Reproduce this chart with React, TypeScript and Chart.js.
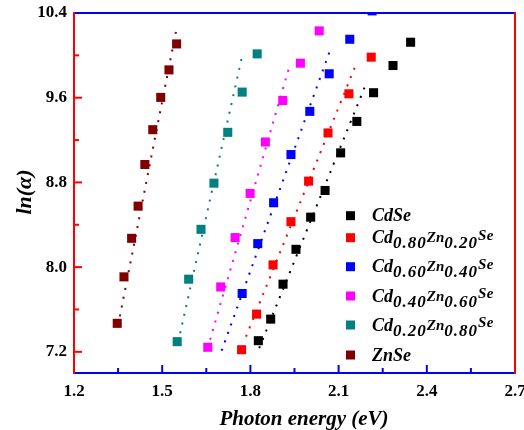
import React, { useEffect, useRef } from 'react';
import { Chart, registerables } from 'chart.js';

Chart.register(...registerables);

// ---------- data ----------
const seriesNames = ['CdSe', 'Cd0.80Zn0.20Se', 'Cd0.60Zn0.40Se', 'Cd0.40Zn0.60Se', 'Cd0.20Zn0.80Se', 'ZnSe'];
const seriesColors = ['#000000', '#FF0000', '#0000FF', '#FF00FF', '#008080', '#800000'];

// legend label parts: m = main, b = subscript, s = small, t = raised small
const legendParts: [string, string][][] = [
  [['CdSe', 'm']],
  [['Cd', 'm'], ['0.80', 'b'], ['Zn', 's'], ['0.20', 'b'], ['Se', 't']],
  [['Cd', 'm'], ['0.60', 'b'], ['Zn', 's'], ['0.40', 'b'], ['Se', 't']],
  [['Cd', 'm'], ['0.40', 'b'], ['Zn', 's'], ['0.60', 'b'], ['Se', 't']],
  [['Cd', 'm'], ['0.20', 'b'], ['Zn', 's'], ['0.80', 'b'], ['Se', 't']],
  [['ZnSe', 'm']],
];

const cdseX = [1.827, 1.869, 1.911, 1.955, 2.005, 2.054, 2.107, 2.162, 2.219, 2.285, 2.345];
const cdseY = [7.305, 7.509, 7.839, 8.168, 8.472, 8.724, 9.079, 9.376, 9.647, 9.904, 10.124];

const cd80X = [1.770, 1.821, 1.877, 1.938, 1.998, 2.064, 2.135, 2.211];
const cd80Y = [7.220, 7.556, 8.021, 8.429, 8.812, 9.267, 9.637, 9.983];

const cd60X = [1.772, 1.825, 1.879, 1.938, 2.002, 2.068, 2.138, 2.214];
const cd60Y = [7.751, 8.222, 8.608, 9.063, 9.471, 9.826, 10.152, 10.42];

const cd40X = [1.655, 1.699, 1.748, 1.799, 1.851, 1.910, 1.970, 2.034];
const cd40Y = [7.243, 7.813, 8.279, 8.696, 9.182, 9.574, 9.926, 10.231];

const cd20X = [1.551, 1.590, 1.632, 1.676, 1.723, 1.772, 1.823];
const cd20Y = [7.296, 7.886, 8.357, 8.793, 9.273, 9.653, 10.014];

const znseX = [1.347, 1.370, 1.396, 1.418, 1.441, 1.468, 1.495, 1.523, 1.549];
const znseY = [7.469, 7.908, 8.272, 8.576, 8.969, 9.298, 9.603, 9.863, 10.108];

// linear fit segments (start, end)
const cdseFitX = [1.830, 2.193];
const cdseFitY = [7.235, 9.730];
const cd80FitX = [1.785, 2.157];
const cd80FitY = [7.343, 9.900];
const cd60FitX = [1.702, 2.070];
const cd60FitY = [7.210, 10.040];
const cd40FitX = [1.663, 1.930];
const cd40FitY = [7.315, 9.870];
const cd20FitX = [1.561, 1.774];
const cd20FitY = [7.375, 10.020];
const znseFitX = [1.356, 1.550];
const znseFitY = [7.535, 10.270];

const xTickValues = [1.2, 1.5, 1.8, 2.1, 2.4, 2.7];
const xMinorValues = [1.35, 1.65, 1.95, 2.25, 2.55];
const yTickValues = [7.2, 8.0, 8.8, 9.6, 10.4];
const yMinorValues = [7.6, 8.4, 9.2, 10.0];
const xMin = 1.2, xMax = 2.7, yMin = 7.0, yMax = 10.4;

const xTitle = 'Photon energy (eV)';
const yTitle = 'ln(α)';

const pointsX = [cdseX, cd80X, cd60X, cd40X, cd20X, znseX];
const pointsY = [cdseY, cd80Y, cd60Y, cd40Y, cd20Y, znseY];
const fitsX = [cdseFitX, cd80FitX, cd60FitX, cd40FitX, cd20FitX, znseFitX];
const fitsY = [cdseFitY, cd80FitY, cd60FitY, cd40FitY, cd20FitY, znseFitY];

const zip = (xs: number[], ys: number[]) => xs.map((x, i) => ({ x, y: ys[i] }));

const SERIF = 'Liberation Serif';

const decorPlugin = {
  id: 'decor',
  afterDatasetsDraw(chart: any) {
    const { ctx, chartArea: a, scales } = chart;
    const xs = scales.x, ys = scales.y;
    ctx.save();
    const seg = (x1: number, y1: number, x2: number, y2: number) => {
      ctx.beginPath(); ctx.moveTo(x1, y1); ctx.lineTo(x2, y2); ctx.stroke();
    };
    ctx.lineWidth = 2;
    // x ticks (inward, blue)
    ctx.strokeStyle = '#0000FF';
    xTickValues.forEach(v => { const p = xs.getPixelForValue(v); seg(p, a.bottom, p, a.bottom - 8); });
    xMinorValues.forEach(v => { const p = xs.getPixelForValue(v); seg(p, a.bottom, p, a.bottom - 5); });
    // y ticks (inward, red)
    ctx.strokeStyle = '#FF0000';
    yTickValues.forEach(v => { const p = ys.getPixelForValue(v); seg(a.left, p, a.left + 8, p); });
    yMinorValues.forEach(v => { const p = ys.getPixelForValue(v); seg(a.left, p, a.left + 5, p); });
    // frame
    ctx.strokeStyle = '#0000FF';
    seg(a.left, a.top, a.right, a.top);
    seg(a.left, a.bottom, a.right, a.bottom);
    ctx.strokeStyle = '#FF0000';
    seg(a.left, a.top - 1, a.left, a.bottom + 1);
    seg(a.right, a.top - 1, a.right, a.bottom + 1);

    // axis titles
    ctx.fillStyle = '#000';
    ctx.font = `italic bold 21px ${SERIF}`;
    ctx.textAlign = 'center';
    ctx.textBaseline = 'alphabetic';
    ctx.fillText(xTitle, 304, 425);
    ctx.save();
    ctx.font = `italic bold 22px ${SERIF}`;
    ctx.translate(31, 192);
    ctx.rotate(-Math.PI / 2);
    ctx.fillText(yTitle, 0, 0);
    ctx.restore();

    // legend
    const rowY = [215.7, 237.7, 266.7, 296, 325, 355];
    const sq = 9;
    const fonts: Record<string, [number, number, number]> = {
      m: [18, 0, 0], b: [17, 5, 1], s: [15, -1, 0], t: [15, -3.5, 0.5],
    };
    ctx.textAlign = 'left';
    legendParts.forEach((parts, i) => {
      const cy = rowY[i];
      ctx.fillStyle = seriesColors[i];
      ctx.fillRect(350.5 - sq / 2, cy - sq / 2, sq, sq);
      ctx.fillStyle = '#000';
      let x = 372;
      const base = cy + 5.5;
      parts.forEach(([txt, kind]) => {
        const [size, dy, ls] = fonts[kind];
        ctx.font = `italic bold ${size}px ${SERIF}`;
        (ctx as any).letterSpacing = `${ls}px`;
        ctx.fillText(txt, x, base + dy);
        x += ctx.measureText(txt).width;
      });
      (ctx as any).letterSpacing = '0px';
    });
    ctx.restore();
  },
};

export default function App() {
  const ref = useRef<HTMLCanvasElement>(null);
  useEffect(() => {
    if (!ref.current) return;
    const datasets: any[] = [];
    seriesNames.forEach((name, i) => {
      datasets.push({
        type: 'scatter',
        label: name,
        data: zip(pointsX[i], pointsY[i]),
        pointStyle: 'rect',
        pointRadius: 6.4,
        pointHoverRadius: 6.4,
        backgroundColor: seriesColors[i],
        borderColor: seriesColors[i],
        borderWidth: 0,
        showLine: false,
      });
    });
    seriesNames.forEach((name, i) => {
      datasets.push({
        type: 'line',
        label: name + ' fit',
        data: zip(fitsX[i], fitsY[i]),
        borderColor: seriesColors[i],
        borderWidth: 2,
        borderDash: [2, 7],
        pointRadius: 0,
        fill: false,
        tension: 0,
      });
    });
    const tickFont = { family: SERIF, size: 17, weight: 'bold' as const };
    const chart = new Chart(ref.current, {
      type: 'scatter',
      data: { datasets },
      options: {
        responsive: false,
        devicePixelRatio: 1,
        animation: false,
        font: { family: SERIF },
        layout: { padding: { top: 13, right: 9, left: 0, bottom: 0 } },
        plugins: { legend: { display: false }, tooltip: { enabled: false } },
        scales: {
          x: {
            type: 'linear',
            min: xMin,
            max: xMax,
            grid: { display: false, drawTicks: false },
            border: { display: false },
            afterBuildTicks: (s: any) => { s.ticks = xTickValues.map(v => ({ value: v })); },
            afterFit: (s: any) => { s.height = 57; s.paddingLeft = 0; s.paddingRight = 0; },
            ticks: {
              color: '#000',
              font: tickFont,
              padding: 8,
              maxRotation: 0,
              autoSkip: false,
              callback: (v: any) => Number(v).toFixed(1),
            },
          },
          y: {
            type: 'linear',
            min: yMin,
            max: yMax,
            grid: { display: false, drawTicks: false },
            border: { display: false },
            afterBuildTicks: (s: any) => { s.ticks = yTickValues.map(v => ({ value: v })); },
            afterFit: (s: any) => { s.width = 74; s.paddingTop = 0; s.paddingBottom = 0; },
            ticks: {
              color: '#000',
              font: tickFont,
              padding: 7,
              autoSkip: false,
              callback: (v: any) => Number(v).toFixed(1),
            },
          },
        },
      },
      plugins: [decorPlugin],
    } as any);
    return () => chart.destroy();
  }, []);
  return (
    <div style={{ position: 'fixed', left: 0, top: 0, width: 524, height: 430, background: '#fff' }}>
      <canvas ref={ref} width={524} height={430} style={{ display: 'block' }} />
    </div>
  );
}
